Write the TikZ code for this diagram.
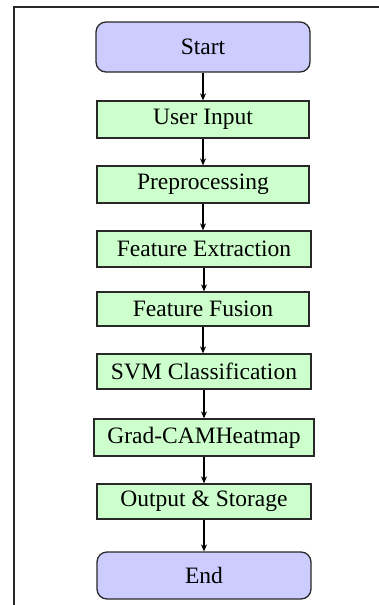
\documentclass[tikz,border=0pt]{standalone}
\usepackage{fontspec}
\setmainfont{Liberation Serif}
\newfontfamily\boxfont{Liberation Serif}
\usetikzlibrary{arrows.meta}
\definecolor{termfill}{RGB}{204,204,255}
\definecolor{procfill}{RGB}{204,255,204}
\definecolor{edge}{RGB}{40,40,40}
\begin{document}
\begin{tikzpicture}[x=1pt,y=-1pt,
  box/.style={draw=edge, line width=1.3pt, fill=procfill, inner sep=0pt, font=\boxfont\fontsize{23.5}{26}\selectfont},
  term/.style={box, fill=termfill, rounded corners=10pt},
  flow/.style={-{Stealth[length=7pt,width=6pt]}, line width=1.1pt, draw=black}]
\useasboundingbox (0,0) rectangle (378,605);
\fill[white] (0,0) rectangle (378,605);
\draw[line width=1.3pt, draw=edge] (14,606) -- (14,7) -- (379,7);
\node[term, minimum width=214pt, minimum height=50pt] (start) at (203,47) {Start};
\node[box, minimum width=212pt, minimum height=37pt] (input) at (203,119.5) {User Input};
\node[box, minimum width=212pt, minimum height=37pt] (pre) at (203,184.5) {Preprocessing};
\node[box, minimum width=214pt, minimum height=36pt] (fe) at (204,249) {Feature Extraction};
\node[box, minimum width=212pt, minimum height=34pt] (ff) at (203,309) {Feature Fusion};
\node[box, minimum width=214pt, minimum height=35pt] (svm) at (204,371.5) {SVM Classification};
\node[box, minimum width=220pt, minimum height=37pt] (grad) at (204,437.5) {Grad-CAMHeatmap};
\node[box, minimum width=214pt, minimum height=35pt] (out) at (204,501.5) {Output \& Storage};
\node[term, minimum width=214pt, minimum height=47pt] (end) at (204,575.5) {End};
\foreach \a/\b in {start/input,input/pre,pre/fe,fe/ff,ff/svm,svm/grad,grad/out,out/end}
  \draw[flow] (\a.south) -- (\a.south |- \b.north);
\end{tikzpicture}
\end{document}
